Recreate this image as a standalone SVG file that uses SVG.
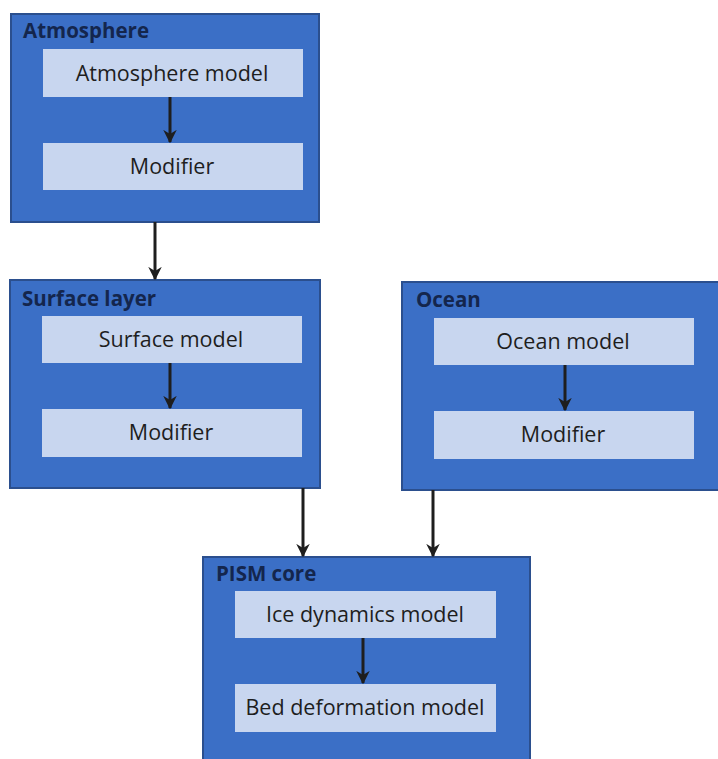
<svg xmlns="http://www.w3.org/2000/svg" width="718" height="759" viewBox="0 0 718 759">
<style>
.outer{fill:#3b6fc6;stroke:#2b4f8e;stroke-width:2}
.inner{fill:#c8d6ef}
.title{font-family:"Open Sans","Liberation Sans",sans-serif;font-weight:bold;font-size:20.5px;fill:#14264d}
.label{font-family:"Open Sans","Liberation Sans",sans-serif;font-size:21.5px;fill:#1e1e1e;text-anchor:middle}
.conn{stroke:#1e1e1e;stroke-width:3;fill:none;marker-end:url(#arr)}
</style>
<defs>
<marker id="arr" viewBox="0 0 10 10" refX="9" refY="5" markerWidth="4.5" markerHeight="4.5" orient="auto" markerUnits="strokeWidth">
<path d="M0,0 L10,5 L0,10 L3,5 Z" fill="#1e1e1e"/>
</marker>
</defs>
<rect width="718" height="759" fill="#ffffff"/>
<g id="atmosphere">
<rect class="outer" x="11" y="14" width="308" height="208"/>
<text class="title" x="23" y="38">Atmosphere</text>
<rect class="inner" x="43" y="49" width="260" height="48"/>
<text class="label" x="172" y="81">Atmosphere model</text>
<rect class="inner" x="43" y="143" width="260" height="47"/>
<text class="label" x="172" y="174">Modifier</text>
</g>
<g id="surface">
<rect class="outer" x="10" y="280" width="310" height="208"/>
<text class="title" x="22" y="306">Surface layer</text>
<rect class="inner" x="42" y="316" width="260" height="47"/>
<text class="label" x="171" y="347">Surface model</text>
<rect class="inner" x="42" y="409" width="260" height="48"/>
<text class="label" x="171" y="440">Modifier</text>
</g>
<g id="ocean">
<rect class="outer" x="402" y="282" width="320" height="208"/>
<text class="title" x="416" y="307">Ocean</text>
<rect class="inner" x="434" y="318" width="260" height="47"/>
<text class="label" x="563" y="349">Ocean model</text>
<rect class="inner" x="434" y="411" width="260" height="48"/>
<text class="label" x="563" y="442">Modifier</text>
</g>
<g id="pism">
<rect class="outer" x="203" y="557" width="327" height="210"/>
<text class="title" x="216" y="581">PISM core</text>
<rect class="inner" x="235" y="591" width="261" height="47"/>
<text class="label" x="365" y="622">Ice dynamics model</text>
<rect class="inner" x="235" y="684" width="261" height="48"/>
<text class="label" x="365" y="715">Bed deformation model</text>
</g>
<g id="connectors">
<line class="conn" x1="170" y1="97" x2="170" y2="142"/>
<line class="conn" x1="155" y1="222" x2="155" y2="279"/>
<line class="conn" x1="170" y1="363" x2="170" y2="408"/>
<line class="conn" x1="565" y1="365" x2="565" y2="410"/>
<line class="conn" x1="303" y1="488" x2="303" y2="556"/>
<line class="conn" x1="433" y1="490" x2="433" y2="556"/>
<line class="conn" x1="363" y1="638" x2="363" y2="683"/>
</g>
</svg>
